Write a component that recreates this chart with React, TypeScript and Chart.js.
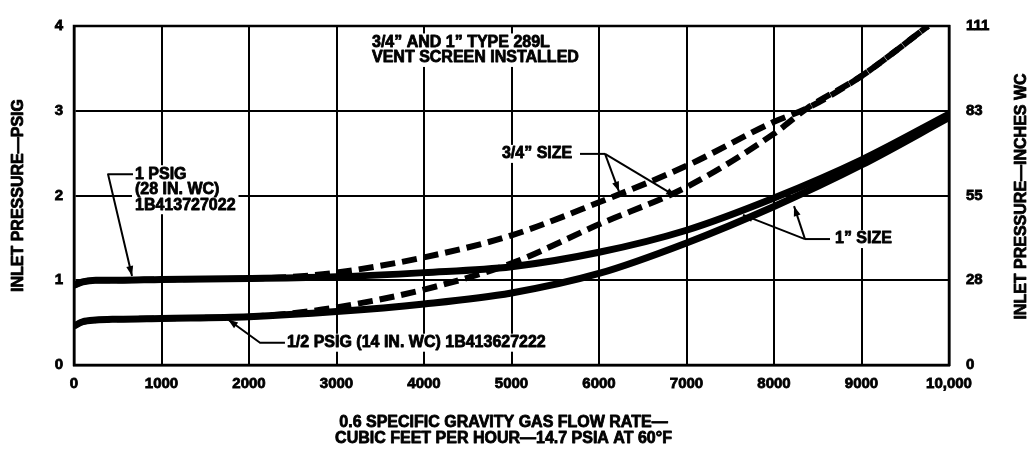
import React, { useEffect, useRef } from 'react';
import { Chart, registerables } from 'chart.js';

Chart.register(...registerables);

// Flow rate axis (cubic feet per hour) and its labels
const flowTickLabels = ['0', '1000', '2000', '3000', '4000', '5000', '6000', '7000', '8000', '9000', '10,000'];
// Right-hand axis: the same pressures expressed in inches of water column
const inchesWcLabels = ['0', '28', '55', '83', '111'];

// 1" size regulators (solid curves)
const solidFlow = [0, 100, 250, 500, 1000, 2000, 3000, 4000, 5000, 6000, 7000, 8000, 9000, 10000];
const onePsigOneInch = [0.94, 0.98, 1.0, 1.0, 1.01, 1.02, 1.04, 1.09, 1.16, 1.33, 1.59, 1.97, 2.42, 2.96];
const halfPsigOneInch = [0.46, 0.51, 0.53, 0.54, 0.55, 0.57, 0.63, 0.72, 0.85, 1.08, 1.44, 1.87, 2.36, 2.92];

// 3/4" size regulators (dashed curves)
const dashFlow = [0, 100, 250, 500, 1000, 2000, 2500, 3000, 4000, 5000, 6000, 7000, 8000, 8380, 9000, 9760];
const onePsigThreeQuarter = [0.94, 0.98, 1.0, 1.0, 1.01, 1.02, 1.04, 1.09, 1.27, 1.53, 1.92, 2.35, 2.87, 3.03, 3.41, 4.0];
const halfPsigThreeQuarter = [0.46, 0.51, 0.53, 0.54, 0.55, 0.57, 0.61, 0.68, 0.89, 1.2, 1.66, 2.1, 2.73, 3.03, 3.41, 4.0];

const FONT = '"Liberation Sans", Arial, Helvetica, sans-serif';
const TEXT_WEIGHT = 0.8;

type Pt = [number, number];

// Callout text blocks, anchored (left edge, first line centre) in data units
const noteBlocks: { lines: string[]; at: Pt }[] = [
  { lines: ['3/4” AND 1” TYPE 289L', 'VENT SCREEN INSTALLED'], at: [3406, 3.806] },
  { lines: ['1 PSIG', '(28 IN. WC)', '1B413727022'], at: [697, 2.251] },
  { lines: ['1/2 PSIG (14 IN. WC) 1B413627222'], at: [2434, 0.263] },
  { lines: ['3/4” SIZE'], at: [4891, 2.491] },
  { lines: ['1” SIZE'], at: [8697, 1.486] },
];

// Leader lines for the callouts; arrow marks an arrowhead at the last point
const leaders: { path: Pt[]; arrow: boolean }[] = [
  { path: [[674, 2.251], [389, 2.251], [663, 1.051]], arrow: true },
  { path: [[2411, 0.263], [2126, 0.263], [1760, 0.537]], arrow: true },
  { path: [[5783, 2.491], [6069, 2.491]], arrow: false },
  { path: [[6069, 2.491], [6229, 2.046]], arrow: true },
  { path: [[6069, 2.491], [6880, 1.99]], arrow: true },
  { path: [[8640, 1.486], [8354, 1.486]], arrow: false },
  { path: [[8354, 1.486], [8229, 1.874]], arrow: true },
  { path: [[8354, 1.486], [7646, 1.771]], arrow: true },
];

const xTitleLines = ['0.6 SPECIFIC GRAVITY GAS FLOW RATE—', 'CUBIC FEET PER HOUR—14.7 PSIA AT 60°F'];
const leftTitle = 'INLET PRESSURE—PSIG';
const rightTitle = 'INLET PRESSURE—INCHES WC';

const toPoints = (xs: number[], ys: number[]) => xs.map((x, i) => ({ x, y: ys[i] }));

function arrowHead(ctx: CanvasRenderingContext2D, fx: number, fy: number, tx: number, ty: number) {
  const ang = Math.atan2(ty - fy, tx - fx);
  const len = 10;
  const half = 3.5;
  ctx.beginPath();
  ctx.moveTo(tx, ty);
  ctx.lineTo(tx - len * Math.cos(ang) + half * Math.sin(ang), ty - len * Math.sin(ang) - half * Math.cos(ang));
  ctx.lineTo(tx - len * Math.cos(ang) - half * Math.sin(ang), ty - len * Math.sin(ang) + half * Math.cos(ang));
  ctx.closePath();
  ctx.fill();
}

// heavy text: fill plus a thin outline of the same colour
function boldText(ctx: CanvasRenderingContext2D, s: string, x: number, y: number) {
  ctx.fillText(s, x, y);
  ctx.strokeText(s, x, y);
}

const notesPlugin = {
  id: 'figureNotes',
  afterDatasetsDraw(chart: any) {
    const { ctx, chartArea: a, scales } = chart;
    const px = (v: number) => scales.x.getPixelForValue(v);
    const py = (v: number) => scales.y.getPixelForValue(v);
    ctx.save();

    // plot frame
    ctx.strokeStyle = '#000';
    ctx.lineWidth = 2.5;
    ctx.strokeRect(a.left, a.top, a.right - a.left, a.bottom - a.top);

    // callout text on white patches
    ctx.font = `bold 16px ${FONT}`;
    ctx.textBaseline = 'middle';
    ctx.textAlign = 'left';
    ctx.lineJoin = 'round';
    const lh = 15.5;
    noteBlocks.forEach((b) => {
      const x0 = px(b.at[0]);
      const y0 = py(b.at[1]);
      const w = Math.max(...b.lines.map((l) => ctx.measureText(l).width));
      ctx.fillStyle = '#fff';
      ctx.fillRect(x0 - 3, y0 - 9, w + 6, (b.lines.length - 1) * lh + 18);
      ctx.fillStyle = '#000';
      ctx.strokeStyle = '#000';
      ctx.lineWidth = TEXT_WEIGHT;
      b.lines.forEach((l, i) => boldText(ctx, l, x0, y0 + i * lh));
    });

    // leader lines
    ctx.lineWidth = 2;
    ctx.strokeStyle = '#000';
    ctx.fillStyle = '#000';
    leaders.forEach((ld) => {
      const p = ld.path.map(([x, y]) => [px(x), py(y)]);
      ctx.beginPath();
      ctx.moveTo(p[0][0], p[0][1]);
      for (let i = 1; i < p.length; i++) ctx.lineTo(p[i][0], p[i][1]);
      ctx.stroke();
      if (ld.arrow) {
        const n = p.length;
        arrowHead(ctx, p[n - 2][0], p[n - 2][1], p[n - 1][0], p[n - 1][1]);
      }
    });

    // axis titles
    ctx.fillStyle = '#000';
    ctx.strokeStyle = '#000';
    ctx.lineWidth = TEXT_WEIGHT;
    ctx.font = `bold 16px ${FONT}`;
    ctx.textAlign = 'center';
    const cx = (a.left + a.right) / 2 - 8;
    boldText(ctx, xTitleLines[0], cx, a.bottom + 57.5);
    boldText(ctx, xTitleLines[1], cx, a.bottom + 74);

    const cy = (a.top + a.bottom) / 2;
    ctx.save();
    ctx.translate(a.left - 55, cy);
    ctx.rotate(-Math.PI / 2);
    boldText(ctx, leftTitle, 0, 0);
    ctx.restore();

    ctx.save();
    ctx.translate(a.right + 73, cy + 1);
    ctx.rotate(-Math.PI / 2);
    boldText(ctx, rightTitle, 0, 0);
    ctx.restore();

    ctx.restore();
  },
};

export default function App() {
  const canvasRef = useRef<HTMLCanvasElement | null>(null);

  useEffect(() => {
    const canvas = canvasRef.current;
    if (!canvas) return;
    const tickFont = { family: FONT, size: 15, weight: 'bold' as const };

    const chart = new Chart(canvas, {
      type: 'line',
      data: {
        datasets: [
          {
            label: '3/4" size, 1 psig',
            data: toPoints(dashFlow, onePsigThreeQuarter),
            borderColor: '#000',
            borderWidth: 6,
            borderDash: [15, 7],
            pointRadius: 0,
            cubicInterpolationMode: 'monotone',
            fill: false,
          },
          {
            label: '3/4" size, 1/2 psig',
            data: toPoints(dashFlow, halfPsigThreeQuarter),
            borderColor: '#000',
            borderWidth: 6,
            borderDash: [15, 7],
            pointRadius: 0,
            cubicInterpolationMode: 'monotone',
            fill: false,
          },
          {
            label: '1" size, 1 psig',
            data: toPoints(solidFlow, onePsigOneInch),
            borderColor: '#000',
            borderWidth: 7,
            pointRadius: 0,
            cubicInterpolationMode: 'monotone',
            fill: false,
          },
          {
            label: '1" size, 1/2 psig',
            data: toPoints(solidFlow, halfPsigOneInch),
            borderColor: '#000',
            borderWidth: 7,
            pointRadius: 0,
            cubicInterpolationMode: 'monotone',
            fill: false,
          },
        ],
      },
      options: {
        animation: false,
        responsive: false,
        devicePixelRatio: 1,
        layout: { padding: { top: 15, left: 0, right: 0, bottom: 0 } },
        plugins: { legend: { display: false }, tooltip: { enabled: false } },
        scales: {
          x: {
            type: 'linear',
            min: 0,
            max: 10000,
            afterFit: (s: any) => { s.height = 87; },
            grid: { color: '#000', lineWidth: 2, drawTicks: false },
            border: { color: '#000', width: 2.5 },
            ticks: {
              stepSize: 1000,
              padding: 10,
              color: '#000',
              textStrokeColor: '#000',
              textStrokeWidth: TEXT_WEIGHT,
              font: tickFont,
              maxRotation: 0,
              autoSkip: false,
              callback: (v: any) => flowTickLabels[Math.round(Number(v) / 1000)],
            },
          },
          y: {
            type: 'linear',
            position: 'left',
            min: 0,
            max: 4,
            afterFit: (s: any) => { s.width = 74; },
            grid: { color: '#000', lineWidth: 2, drawTicks: false },
            border: { color: '#000', width: 2.5 },
            ticks: {
              stepSize: 1,
              padding: 11,
              color: '#000',
              textStrokeColor: '#000',
              textStrokeWidth: TEXT_WEIGHT,
              font: tickFont,
            },
          },
          y2: {
            type: 'linear',
            position: 'right',
            min: 0,
            max: 4,
            afterFit: (s: any) => { s.width = 82; },
            grid: { display: false, drawTicks: false },
            border: { color: '#000', width: 2.5 },
            ticks: {
              stepSize: 1,
              padding: 17,
              color: '#000',
              textStrokeColor: '#000',
              textStrokeWidth: TEXT_WEIGHT,
              font: tickFont,
              callback: (v: any) => inchesWcLabels[Math.round(Number(v))],
            },
          },
        },
      },
      plugins: [notesPlugin],
    });

    return () => chart.destroy();
  }, []);

  return (
    <div style={{ position: 'absolute', left: 0, top: 0, width: 1031, height: 452, background: '#fff' }}>
      <canvas ref={canvasRef} width={1031} height={452} style={{ width: 1031, height: 452, display: 'block' }} />
    </div>
  );
}
